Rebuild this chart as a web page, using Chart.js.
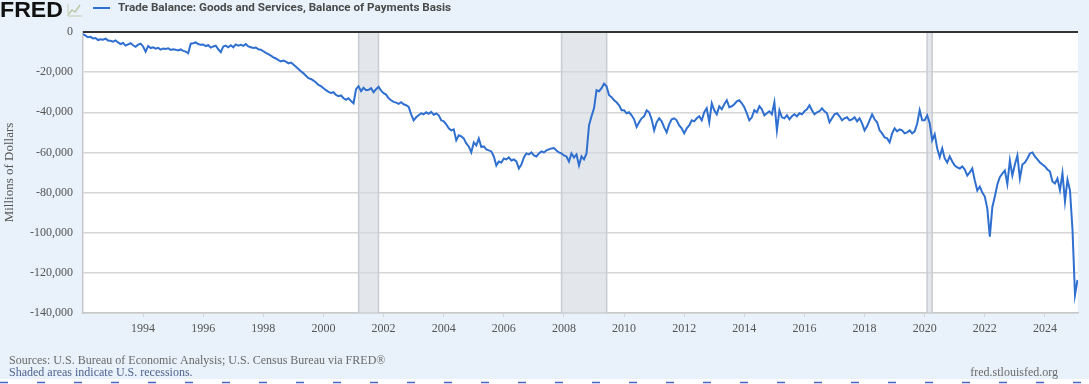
<!DOCTYPE html>
<html><head><meta charset="utf-8">
<script src="https://cdn.jsdelivr.net/npm/chart.js@4.4.1/dist/chart.umd.min.js"></script>
<style>html,body{margin:0;padding:0;background:#fff;overflow:hidden}canvas{display:block}</style>
</head><body><canvas id="c" width="1089" height="384"></canvas>
<script>
const seriesName = 'Trade Balance: Goods and Services, Balance of Payments Basis';
const yAxisTitle = 'Millions of Dollars';
const sourceNote = 'Sources: U.S. Bureau of Economic Analysis; U.S. Census Bureau via FRED®';
const shadeNote = 'Shaded areas indicate U.S. recessions.';
const siteNote = 'fred.stlouisfed.org';
const startYear = 1992; // monthly values from Jan 1992 to Feb 2025, millions of dollars
const balance = [
  -1000,-1800,-2600,-2400,-3200,-3000,-4000,-3600,-3800,-3300,-4200,-4400,          // 1992
  -4800,-4200,-5200,-6000,-5500,-6800,-6200,-5600,-6600,-7400,-6300,-5800,          // 1993
  -7200,-9800,-7000,-8000,-7600,-8300,-7900,-8800,-8200,-8500,-8100,-8900,          // 1994
  -8600,-8800,-9200,-8700,-9400,-9800,-10600,-5800,-5600,-5200,-6000,-6400,         // 1995
  -6200,-7000,-6600,-7800,-7200,-6800,-8600,-10000,-7200,-6800,-7600,-6600,         // 1996
  -7600,-6200,-6800,-6400,-6900,-6000,-7200,-7600,-8000,-7700,-8600,-8800,          // 1997
  -9600,-10400,-11000,-11800,-12600,-13200,-14000,-14600,-14200,-14800,-15600,-15200, // 1998
  -16200,-17300,-18400,-19600,-20600,-21800,-23000,-23400,-24200,-25200,-26400,-27000, // 1999
  -28000,-29000,-29800,-30400,-30000,-31400,-32000,-31600,-33000,-33800,-33000,-34400, // 2000
  -35500,-28500,-27000,-29500,-27800,-29000,-28800,-28000,-30000,-28500,-27300,-29200, // 2001
  -30500,-31200,-33000,-34000,-34800,-35200,-35800,-35000,-36000,-36500,-37300,-41000, // 2002
  -44000,-42500,-41500,-40500,-41000,-40000,-40800,-39800,-41200,-40600,-41500,-44000, // 2003
  -44500,-46000,-48000,-49000,-48500,-54000,-51500,-52000,-53000,-55500,-57000,-60000, // 2004
  -55000,-56500,-53000,-57300,-57000,-58500,-59000,-59500,-62000,-66500,-64500,-65000, // 2005
  -63000,-63500,-62500,-64000,-63500,-64500,-68000,-66000,-62500,-60500,-61000,-60000, // 2006
  -61500,-62000,-60500,-59500,-60000,-59000,-58500,-58000,-57800,-59000,-60000,-60500, // 2007
  -61500,-62000,-64500,-60500,-62500,-61000,-66500,-62000,-63500,-60500,-46500,-42000, // 2008
  -38000,-29000,-29500,-28000,-25700,-27000,-31500,-32500,-34000,-35000,-36500,-39000, // 2009
  -39000,-40500,-40000,-41500,-43500,-47300,-45000,-43000,-42000,-39000,-40000,-43500, // 2010
  -49000,-45000,-43000,-44500,-47500,-50000,-46000,-43500,-43000,-44000,-46500,-48000, // 2011
  -50500,-48000,-46500,-44000,-44500,-43000,-42000,-44000,-40000,-38000,-45000,-35500, // 2012
  -39000,-41000,-37000,-38500,-36000,-34000,-37500,-37000,-36000,-34500,-34000,-35500, // 2013
  -37500,-40500,-44000,-42500,-39000,-40000,-37000,-38500,-41500,-40500,-39500,-41000, // 2014
  -35000,-49000,-39000,-42500,-43000,-41500,-43500,-42000,-41000,-42000,-40500,-41000, // 2015
  -39500,-38500,-36500,-39000,-41000,-40000,-39500,-38000,-39500,-40500,-45000,-43000, // 2016
  -41000,-40500,-42000,-44000,-43000,-42500,-44000,-43500,-42500,-44500,-43000,-45500, // 2017
  -49000,-47000,-44000,-41000,-43500,-45000,-49000,-50500,-52500,-53000,-55000,-50500, // 2018
  -48000,-49500,-48500,-49000,-50500,-50000,-49000,-50500,-49500,-45700,-39000,-44000, // 2019
  -44000,-41500,-45500,-54000,-51000,-58000,-62300,-58000,-63000,-65000,-62000,-64500, // 2020
  -66500,-67500,-68000,-67000,-68500,-71500,-70000,-68000,-74000,-79000,-77000,-80000, // 2021
  -82000,-88000,-102000,-87300,-82000,-76000,-72300,-70500,-69000,-75700,-64000,-71500, // 2022
  -66000,-61500,-73000,-66000,-65000,-63000,-60500,-60000,-62000,-63500,-65000,-66000, // 2023
  -67000,-68500,-69500,-74500,-75500,-73000,-78800,-70400,-84400,-73600,-78900,-98400, // 2024
  -131000,-123500                                                                     // 2025
];
const xTickYears = [1994,1996,1998,2000,2002,2004,2006,2008,2010,2012,2014,2016,2018,2020,2022,2024];
const yTickValues = [0,-20000,-40000,-60000,-80000,-100000,-120000,-140000];
const recessionStarts = [2001.17, 2007.92, 2020.08];
const recessionEnds   = [2001.83, 2009.42, 2020.25];

const points = balance.map((v, i) => ({ x: startYear + i / 12, y: v }));

const SERIF = '"Liberation Serif", "Times New Roman", serif';
const LINE = '#2f6fd0';

const backgroundPlugin = {
  id: 'bg',
  beforeDraw(chart) {
    const { ctx, chartArea: a, width, height } = chart;
    ctx.save();
    ctx.fillStyle = '#e9f1fa';
    ctx.fillRect(0, 0, width, height);
    ctx.fillStyle = '#ffffff';
    ctx.fillRect(0, 379, width, height - 379);
    ctx.fillRect(a.left, a.top, a.right - a.left, a.bottom - a.top);
    ctx.restore();
  }
};

const recessionPlugin = {
  id: 'recessions',
  beforeDatasetsDraw(chart) {
    const { ctx, chartArea: a, scales: { x, y } } = chart;
    ctx.save();
    recessionStarts.forEach((s, i) => {
      const x0 = x.getPixelForValue(s), x1 = x.getPixelForValue(recessionEnds[i]);
      ctx.fillStyle = 'rgba(212,216,222,0.65)';
      ctx.fillRect(x0, a.top, x1 - x0, a.bottom - a.top);
      ctx.strokeStyle = '#c9ccd2';
      ctx.lineWidth = 1.5;
      ctx.beginPath();
      ctx.moveTo(x0, a.top); ctx.lineTo(x0, a.bottom);
      ctx.moveTo(x1, a.top); ctx.lineTo(x1, a.bottom);
      ctx.stroke();
    });
    const y0 = y.getPixelForValue(0);
    ctx.strokeStyle = '#333';
    ctx.lineWidth = 2;
    ctx.beginPath(); ctx.moveTo(a.left, y0); ctx.lineTo(a.right, y0); ctx.stroke();
    ctx.restore();
  }
};

function fitText(ctx, text, x, y, w) {
  const m = ctx.measureText(text).width;
  ctx.save();
  ctx.translate(x, y);
  ctx.scale(w / m, 1);
  ctx.fillText(text, 0, 0);
  ctx.restore();
}

const annotationPlugin = {
  id: 'annotations',
  afterDraw(chart) {
    const { ctx, width } = chart;
    ctx.save();
    // FRED logo
    ctx.fillStyle = '#111';
    ctx.font = 'bold 22px "Liberation Sans", Arial, sans-serif';
    ctx.textBaseline = 'alphabetic';
    ctx.textAlign = 'left';
    fitText(ctx, 'FRED', 0, 17, 63);
    // small chart icon
    ctx.strokeStyle = '#b9c9a8';
    ctx.lineWidth = 1.5;
    ctx.beginPath();
    ctx.moveTo(68, 15); ctx.lineTo(72, 10); ctx.lineTo(75, 12); ctx.lineTo(80, 5);
    ctx.stroke();
    ctx.strokeStyle = '#cfd8c4';
    ctx.beginPath();
    ctx.moveTo(68, 16); ctx.lineTo(82, 16); ctx.moveTo(68, 4); ctx.lineTo(68, 16);
    ctx.stroke();
    // legend
    ctx.strokeStyle = LINE;
    ctx.lineWidth = 2;
    ctx.beginPath(); ctx.moveTo(93, 8); ctx.lineTo(110, 8); ctx.stroke();
    ctx.fillStyle = '#4a4a4a';
    ctx.font = 'bold 11px Roboto, "Liberation Sans", sans-serif';
    ctx.textBaseline = 'middle';
    fitText(ctx, seriesName, 118, 8, 333);
    // footer
    ctx.font = '12px ' + SERIF;
    ctx.fillStyle = '#6a6a6a';
    ctx.textAlign = 'left';
    ctx.fillText(sourceNote, 9, 361);
    ctx.fillStyle = '#4f6490';
    ctx.fillText(shadeNote, 9, 373);
    ctx.fillStyle = '#6a6a6a';
    ctx.textAlign = 'right';
    ctx.fillText(siteNote, 1058, 373);
    // bottom artifact strip
    ctx.strokeStyle = '#4a64c8';
    ctx.lineWidth = 1.5;
    ctx.setLineDash([8, 29]);
    ctx.beginPath(); ctx.moveTo(0, 382.5); ctx.lineTo(width, 382.5); ctx.stroke();
    ctx.restore();
  }
};

new Chart(document.getElementById('c'), {
  type: 'line',
  data: {
    datasets: [{
      label: seriesName,
      data: points,
      borderColor: LINE,
      borderWidth: 2,
      pointRadius: 0,
      tension: 0,
      fill: false
    }]
  },
  options: {
    responsive: false,
    animation: false,
    parsing: true,
    layout: { padding: { top: 32, right: 11, left: 0, bottom: 0 } },
    plugins: { legend: { display: false }, tooltip: { enabled: false } },
    scales: {
      x: {
        type: 'linear',
        min: 1992,
        max: 2025.1,
        afterFit(s) { s.height = 71; },
        afterBuildTicks(s) { s.ticks = xTickYears.map(v => ({ value: v })); },
        ticks: {
          font: { family: SERIF, size: 12 },
          color: '#555',
          padding: 5,
          maxRotation: 0,
          autoSkip: false,
          callback: v => String(v)
        },
        grid: { drawOnChartArea: false, drawTicks: true, tickLength: 4, color: '#d6d6d6' },
        border: { color: '#c8c8c8', width: 1.5 }
      },
      y: {
        min: -140000,
        max: 0,
        afterFit(s) { s.width = 83; },
        afterBuildTicks(s) { s.ticks = yTickValues.map(v => ({ value: v })); },
        ticks: {
          font: { family: SERIF, size: 12 },
          color: '#555',
          padding: 10,
          callback: v => v.toLocaleString('en-US')
        },
        grid: {
          drawTicks: false,
          color: c => (c.tick && c.tick.value === 0) ? '#333' : '#d6d6d6',
          lineWidth: c => (c.tick && c.tick.value === 0) ? 2 : 1.5
        },
        border: { display: true, color: '#c8c8c8', width: 1.5 },
        title: {
          display: true,
          text: yAxisTitle,
          font: { family: SERIF, size: 13 },
          color: '#555',
          padding: { top: 2, bottom: 0 }
        }
      }
    }
  },
  plugins: [backgroundPlugin, recessionPlugin, annotationPlugin]
});
</script>
</body></html>
